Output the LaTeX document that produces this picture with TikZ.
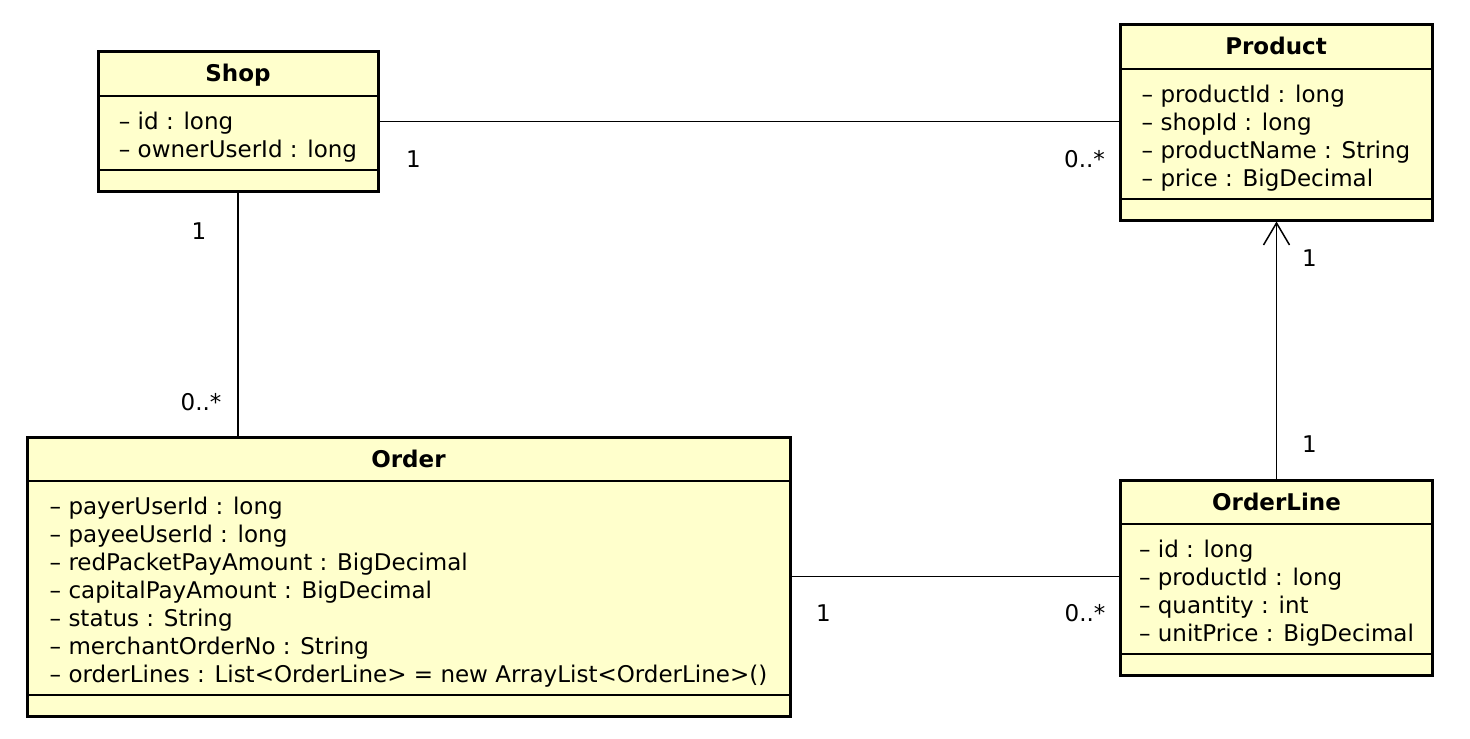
\documentclass[tikz,border=0pt]{standalone}
\usepackage{fontspec}
\setmainfont{DejaVu Sans}
\usetikzlibrary{positioning,fit,arrows.meta}
\definecolor{umlfill}{RGB}{255,255,204}
\newcommand{\umlsize}{\fontsize{11.5}{14}\selectfont}
\newcommand{\attrstrut}{\rule{0pt}{13pt}}
\tikzset{
  classtitle/.style={draw, fill=umlfill, line width=0.8pt, outer sep=0pt, inner sep=0pt, minimum height=22pt, text height=8.5pt, text depth=0.5pt, font=\umlsize\bfseries},
  classattr/.style={draw, fill=umlfill, line width=0.8pt, outer sep=0pt, inner sep=0pt, align=left, font=\umlsize},
  classops/.style={draw, fill=umlfill, line width=0.8pt, outer sep=0pt, inner sep=0pt, minimum height=10.5pt},
  classframe/.style={draw, line width=1.5pt, inner sep=0pt},
  assoc/.style={line width=0.75pt},
  mult/.style={inner sep=0pt, font=\umlsize}
}
\begin{document}
\begin{tikzpicture}[x=0.5pt, y=-0.5pt]
\useasboundingbox (0,0) rectangle (1470,738);
% Shop
\node[classtitle, minimum width=140pt] (shopT) at (238,74) {Shop};
\node[classattr, minimum width=140pt, minimum height=37pt, below=0pt of shopT] (shopA) {\attrstrut-- id : long\\-- ownerUserId : long};
\node[classops, minimum width=140pt, below=0pt of shopA] (shopO) {};
\node[classframe, fit=(shopT)(shopO)] (shop) {};
% Product
\node[classtitle, minimum width=156pt] (productT) at (1276,47) {Product};
\node[classattr, minimum width=156pt, minimum height=65pt, below=0pt of productT] (productA) {\attrstrut-- productId : long\\-- shopId : long\\-- productName : String\\-- price : BigDecimal};
\node[classops, minimum width=156pt, below=0pt of productA] (productO) {};
\node[classframe, fit=(productT)(productO)] (product) {};
% Order
\node[classtitle, minimum width=381.5pt] (orderT) at (408.5,459) {Order};
\node[classattr, minimum width=381.5pt, minimum height=107pt, below=0pt of orderT] (orderA) {\attrstrut-- payerUserId : long\\-- payeeUserId : long\\-- redPacketPayAmount : BigDecimal\\-- capitalPayAmount : BigDecimal\\-- status : String\\-- merchantOrderNo : String\\-- orderLines : List<OrderLine> = new ArrayList<OrderLine>()};
\node[classops, minimum width=381.5pt, below=0pt of orderA] (orderO) {};
\node[classframe, fit=(orderT)(orderO)] (order) {};
% OrderLine
\node[classtitle, minimum width=156pt] (orderlineT) at (1276.5,502) {OrderLine};
\node[classattr, minimum width=156pt, minimum height=65pt, below=0pt of orderlineT] (orderlineA) {\attrstrut-- id : long\\-- productId : long\\-- quantity : int\\-- unitPrice : BigDecimal};
\node[classops, minimum width=156pt, below=0pt of orderlineA] (orderlineO) {};
\node[classframe, fit=(orderlineT)(orderlineO)] (orderline) {};
% associations
\draw[assoc] (shop.east) -- (shop.east -| product.west)
  node[mult, at start, xshift=17pt, yshift=-19pt] {1}
  node[mult, at end, xshift=-17pt, yshift=-19pt] {0..*};
\draw[assoc] (shop.south) -- (shop.south |- order.north)
  node[mult, at start, xshift=-19.5pt, yshift=-19.5pt] {1}
  node[mult, at end, xshift=-18.5pt, yshift=16.5pt] {0..*};
\draw[assoc, -{Straight Barb[length=11pt, width=13pt]}] (orderline.north) -- (orderline.north |- product.south)
  node[mult, at start, xshift=16.5pt, yshift=17pt] {1}
  node[mult, at end, xshift=16.5pt, yshift=-18.5pt] {1};
\draw[assoc] (order.east) -- (order.east -| orderline.west)
  node[mult, at start, xshift=16pt, yshift=-18.5pt] {1}
  node[mult, at end, xshift=-17pt, yshift=-18.5pt] {0..*};
\end{tikzpicture}
\end{document}
